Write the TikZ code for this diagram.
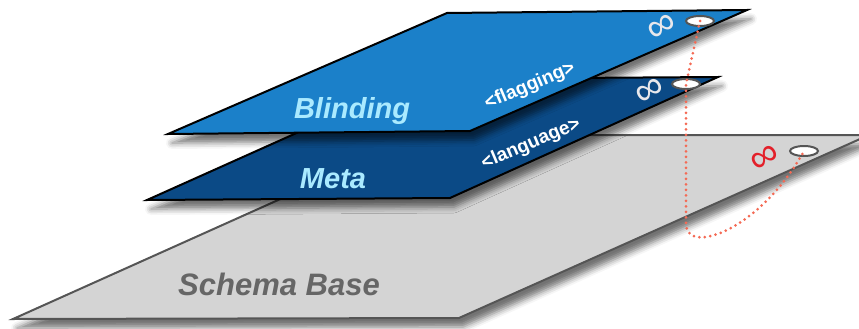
\documentclass[tikz,border=0pt]{standalone}
\usepackage{fontspec}
\setmainfont{Liberation Sans}
\usetikzlibrary{shapes.geometric,shadows.blur}

\definecolor{blindblue}{RGB}{27,128,201}
\definecolor{metablue}{RGB}{11,74,134}
\definecolor{basegray}{RGB}{212,212,212}
\definecolor{edgegray}{RGB}{85,85,85}
\definecolor{labelblue}{RGB}{170,234,255}
\definecolor{basetext}{RGB}{102,102,102}
\definecolor{linkred}{RGB}{244,106,85}
\definecolor{loopred}{RGB}{227,32,42}
\definecolor{loopwhite}{RGB}{232,232,236}

\begin{document}
\begin{tikzpicture}[x=1pt, y=-1pt,
  plane/.style = {line width=2pt, blur shadow={shadow xshift=4pt, shadow yshift=-9pt, shadow blur radius=6pt, shadow opacity=55}},
  title/.style = {font=\bfseries\itshape\fontsize{29}{30}\selectfont, text=labelblue, anchor=base},
  tag/.style = {font=\bfseries\fontsize{19}{20}\selectfont, text=white, rotate=23},
  hole/.style = {draw=edgegray, fill=white, ellipse, line width=2pt, minimum width=28pt, minimum height=10pt, inner sep=0pt},
  loop/.style = {font=\fontsize{40}{40}\selectfont, rotate=32, inner sep=0pt}]
\useasboundingbox (0,0) rectangle (859,329);

\draw[plane, draw=edgegray, fill=basegray] (13,319) -- (459,318) -- (869,135) -- (423,135) -- cycle;
\draw[plane, fill=metablue] (147,200) -- (450,198) -- (718,77) -- (417,79) -- cycle;
\draw[plane, fill=blindblue] (168,134) -- (470,131) -- (747,10) -- (447,13) -- cycle;

\node[title] (blinding) at (352,118) {Blinding};
\node[title] (meta) at (333,188) {Meta};
\node[title, text=basetext, font=\bfseries\itshape\fontsize{31}{32}\selectfont] (base) at (279,295) {Schema Base};
\node[tag] (flagging) at (530,86) {<flagging>};
\node[tag] (language) at (531,144) {<language>};

\node[loop, text=loopwhite] (bloop) at (662,28) {∞};
\node[loop, text=loopwhite] (mloop) at (650,92) {∞};
\node[loop, text=loopred] (sloop) at (765,159) {∞};

\node[hole] (bhole) at (700,21) {};
\node[hole] (mhole) at (686,84) {};
\node[hole] (shole) at (804,151) {};

\coordinate (bend) at (686,225);
\draw[linkred, line width=3pt, dash pattern=on 0pt off 5.5pt, line cap=round] (bhole.center) -- (mhole.center) -- (bend)
  .. controls (688,255) and (760,230) .. (shole.center);
\end{tikzpicture}
\end{document}
